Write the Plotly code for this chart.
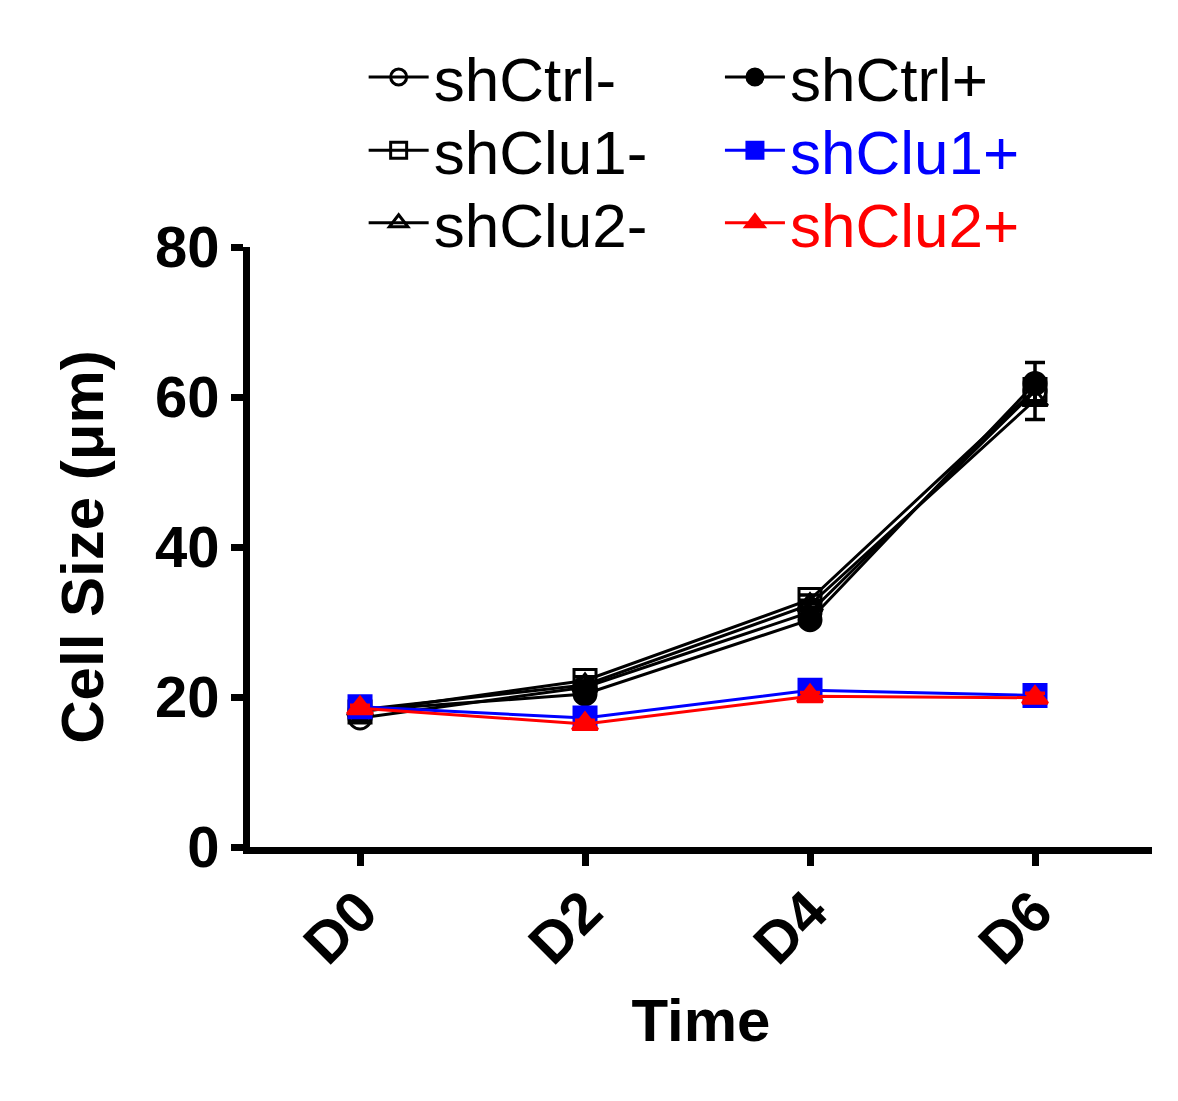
import plotly.graph_objects as go

# dias y tamaños celulares (um)
dias = ["D0", "D2", "D4", "D6"]

shctrl_menos = [17.2, 21.3, 31.3, 60.8]
shclu1_menos = [18.0, 22.2, 33.0, 61.0]
shclu2_menos = [18.3, 21.6, 32.3, 59.6]
shctrl_mas = [18.2, 20.4, 30.3, 61.8]
shclu1_mas = [18.7, 17.2, 20.9, 20.2]
shclu2_mas = [18.5, 16.4, 20.1, 19.9]

# errores (SEM aprox)
err_shctrl_menos = [0.4, 0.5, 0.6, 1.5]
err_shclu1_menos = [0.4, 0.5, 0.6, 1.5]
err_shclu2_menos = [0.4, 0.5, 0.6, 2.6]
err_shctrl_mas = [0.4, 0.5, 0.6, 2.8]
err_shclu1_mas = [0.4, 0.5, 0.5, 0.6]
err_shclu2_mas = [0.4, 0.5, 0.5, 0.6]

series = [
    ("shCtrl-", shctrl_menos, err_shctrl_menos, "circle-open", "black"),
    ("shClu1-", shclu1_menos, err_shclu1_menos, "square-open", "black"),
    ("shClu2-", shclu2_menos, err_shclu2_menos, "triangle-up-open", "black"),
    ("shCtrl+", shctrl_mas, err_shctrl_mas, "circle", "black"),
    ("shClu1+", shclu1_mas, err_shclu1_mas, "square", "blue"),
    ("shClu2+", shclu2_mas, err_shclu2_mas, "triangle-up", "red"),
]

# cada serie en su propia leyenda para ubicarlas en 2 columnas x 3 filas
pos_x = [0.126, 0.126, 0.126, 0.521, 0.521, 0.521]
pos_y = [1.283, 1.161, 1.040, 1.283, 1.161, 1.040]

fig = go.Figure()
for i, (nombre, vals, errs, simbolo, color) in enumerate(series):
    leg = "legend" if i == 0 else f"legend{i + 1}"
    # el texto de la leyenda va del color de la serie
    etiqueta = nombre if color == "black" else f"<span style='color:{color}'>{nombre}</span>"
    fig.add_trace(go.Scatter(
        x=dias, y=vals, name=etiqueta, legend=leg, showlegend=True,
        mode="lines+markers",
        line=dict(color=color, width=3),
        marker=dict(symbol=simbolo, size=22, color=color,
                    line=dict(color=color, width=3)),
        error_y=dict(type="data", array=errs, color=color, thickness=3.5, width=10),
    ))

fuente_leg = dict(family="Liberation Sans, Arial", size=62, color="black")
leyendas = {}
for i in range(6):
    clave = "legend" if i == 0 else f"legend{i + 1}"
    leyendas[clave] = dict(x=pos_x[i], y=pos_y[i], xanchor="left", yanchor="middle",
                           font=fuente_leg, bgcolor="rgba(0,0,0,0)", itemwidth=60)

fig.update_layout(
    width=1178, height=1101,
    showlegend=True,
    plot_bgcolor="white", paper_bgcolor="white",
    margin=dict(l=242, r=34, t=239, b=262),
    font=dict(family="Liberation Sans, Arial", color="black"),
    xaxis=dict(
        range=[-0.489, 3.52],
        showline=True, linecolor="black", linewidth=7,
        ticks="outside", tickwidth=7, ticklen=12, tickcolor="black",
        tickangle=-45, ticklabelstandoff=-12,
        tickfont=dict(size=58, family="Liberation Sans, Arial", weight="bold"),
        title=dict(text="<b>Time</b>", font=dict(size=60), standoff=26),
        showgrid=False, zeroline=False,
    ),
    yaxis=dict(
        range=[0, 80], tickvals=[0, 20, 40, 60, 80],
        showline=True, linecolor="black", linewidth=7,
        ticks="outside", tickwidth=7, ticklen=12, tickcolor="black",
        tickfont=dict(size=58, family="Liberation Sans, Arial", weight="bold"),
        title=dict(text="<b>Cell Size (μm)</b>", font=dict(size=60), standoff=34),
        showgrid=False, zeroline=False,
    ),
    **leyendas,
)

fig.write_html("out.html")
